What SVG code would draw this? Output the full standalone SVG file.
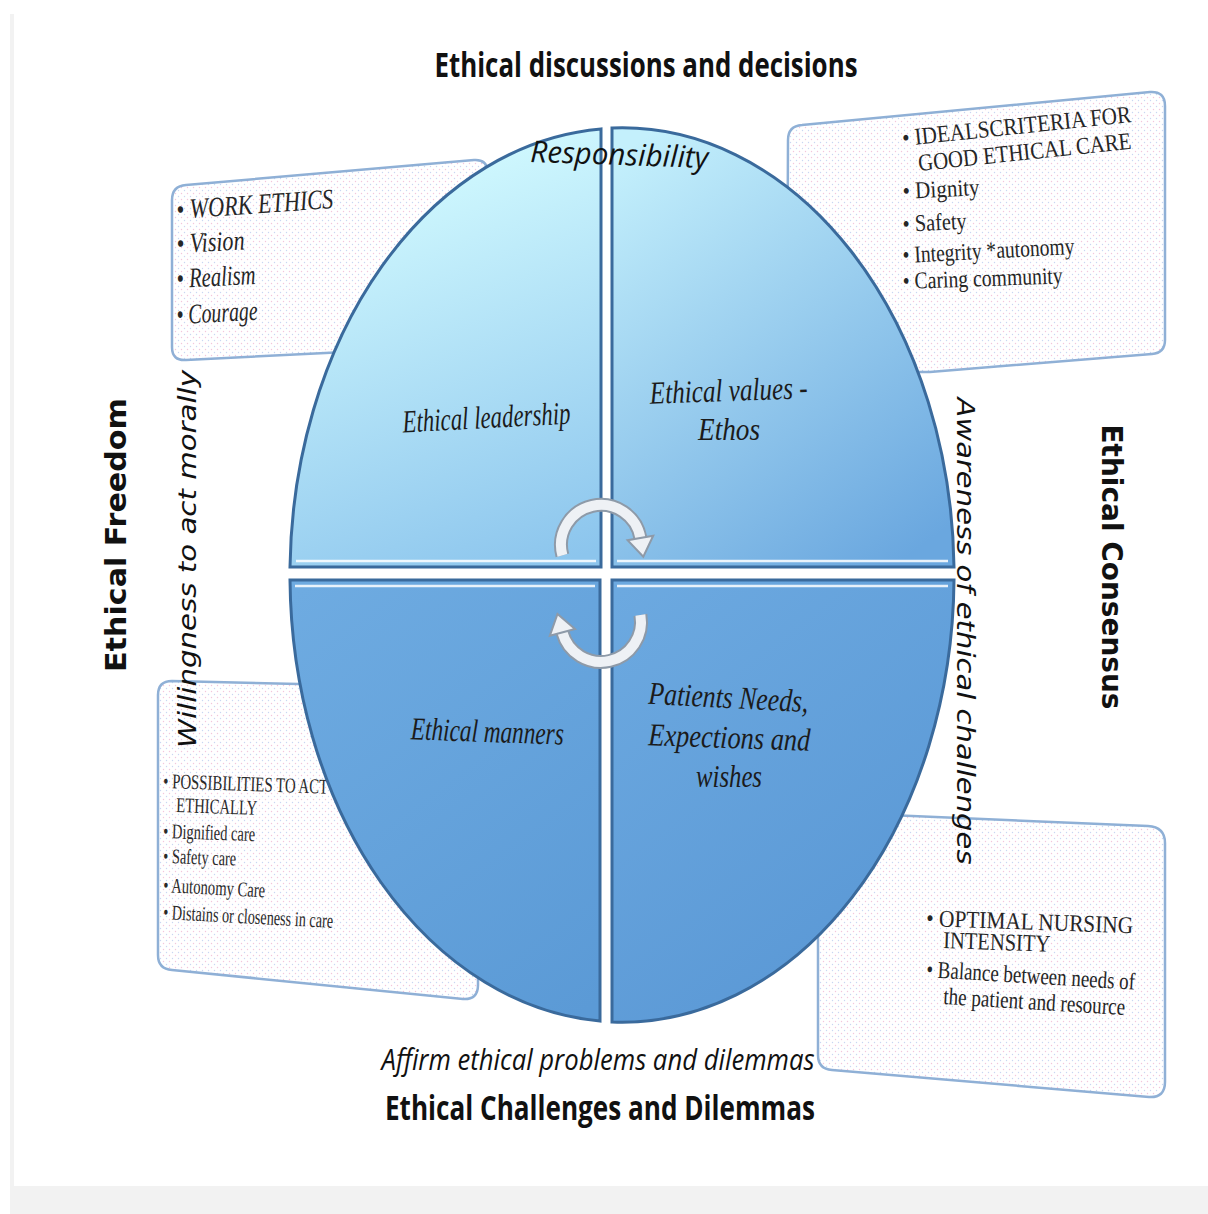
<svg xmlns="http://www.w3.org/2000/svg" width="1208" height="1214" viewBox="0 0 1208 1214">
<style>
.qs{font-family:"Liberation Serif",serif;font-style:italic;font-size:32px;fill:#1b1b1b;text-anchor:middle}
.bxi{font-family:"Liberation Serif",serif;font-style:italic;font-size:28px;fill:#262626}
.bx{font-family:"Liberation Serif",serif;font-size:24px;fill:#262626}
.bxs{font-family:"Liberation Serif",serif;font-size:21px;fill:#2a2a2a}
.ttl{font-family:"Open Sans","Liberation Sans",sans-serif;font-weight:700;font-size:34px;fill:#111;text-anchor:middle}
.itl{font-family:"Open Sans","Liberation Sans",sans-serif;font-style:italic;font-size:30px;fill:#111;text-anchor:middle}
.side{font-family:"DejaVu Sans",sans-serif;font-weight:700;font-size:28px;fill:#111;text-anchor:middle}
.obl{font-family:"DejaVu Sans",sans-serif;font-style:oblique;font-size:25px;fill:#111;text-anchor:middle}
.box{fill:url(#dots);stroke:#8fb0d6;stroke-width:2.5}
.quad{stroke:#3a6a9c;stroke-width:3}
.hl{stroke:#ffffff;stroke-width:2.5;stroke-opacity:0.85;fill:none}
.arcO{fill:none;stroke:#8e9aa8;stroke-width:14}
.arcI{fill:none;stroke:#eef1f5;stroke-width:10}
.head{fill:#eef1f5;stroke:#8e9aa8;stroke-width:2}
</style>
<defs>
<pattern id="dots" width="6" height="6" patternUnits="userSpaceOnUse">
<rect width="6" height="6" fill="#ffffff"/>
<circle cx="1.5" cy="1.5" r="0.7" fill="#f3c6dc"/>
<circle cx="4.5" cy="4.5" r="0.7" fill="#c9d6f2"/>
</pattern>
<linearGradient id="gTL" gradientUnits="userSpaceOnUse" x1="420" y1="150" x2="570" y2="560">
<stop offset="0" stop-color="#d3fbff"/><stop offset="1" stop-color="#8cc5ed"/>
</linearGradient>
<linearGradient id="gTR" gradientUnits="userSpaceOnUse" x1="640" y1="140" x2="930" y2="540">
<stop offset="0" stop-color="#c4f0fc"/><stop offset="1" stop-color="#6aa7df"/>
</linearGradient>
<linearGradient id="gBL" gradientUnits="userSpaceOnUse" x1="300" y1="590" x2="600" y2="1000">
<stop offset="0" stop-color="#6eabe1"/><stop offset="1" stop-color="#5b9ad6"/>
</linearGradient>
<linearGradient id="gBR" gradientUnits="userSpaceOnUse" x1="620" y1="590" x2="930" y2="1000">
<stop offset="0" stop-color="#6ca9e0"/><stop offset="1" stop-color="#5896d4"/>
</linearGradient>
</defs>
<rect width="1208" height="1214" fill="#ffffff"/>
<rect x="10" y="14" width="4" height="1172" fill="#f2f2f2"/>
<rect x="10" y="1186" width="1198" height="28" fill="#f2f2f2"/>

<g id="box-work-ethics">
<path class="box" d="M172,200 Q172,186 186,185 L474,160 Q487,159 488,172 L488,345 L186,360 Q172,361 172,347 Z"/>
<text class="bxi" x="177" y="219" textLength="157" lengthAdjust="spacingAndGlyphs" transform="rotate(-4 177 219)">• WORK ETHICS</text>
<text class="bxi" x="177" y="253" textLength="68" lengthAdjust="spacingAndGlyphs" transform="rotate(-3 177 253)">• Vision</text>
<text class="bxi" x="177" y="288" textLength="79" lengthAdjust="spacingAndGlyphs" transform="rotate(-3 177 288)">• Realism</text>
<text class="bxi" x="177" y="324" textLength="81" lengthAdjust="spacingAndGlyphs" transform="rotate(-3 177 324)">• Courage</text>
</g>

<g id="box-ideals">
<path class="box" d="M788,140 Q788,126 802,125 L1150,92 Q1165,91 1165,106 L1165,340 Q1165,353 1152,354 L930,372 L787,372 Z"/>
<text class="bx" x="903" y="146" textLength="230" lengthAdjust="spacingAndGlyphs" transform="rotate(-6 903 146)">• IDEALSCRITERIA FOR</text>
<text class="bx" x="919" y="171" textLength="214" lengthAdjust="spacingAndGlyphs" transform="rotate(-6 919 171)">GOOD ETHICAL CARE</text>
<text class="bx" x="903" y="199" textLength="77" lengthAdjust="spacingAndGlyphs" transform="rotate(-3 903 199)">• Dignity</text>
<text class="bx" x="903" y="232" textLength="64" lengthAdjust="spacingAndGlyphs" transform="rotate(-3 903 232)">• Safety</text>
<text class="bx" x="903" y="263" textLength="172" lengthAdjust="spacingAndGlyphs" transform="rotate(-3 903 263)">• Integrity *autonomy</text>
<text class="bx" x="903" y="289" textLength="160" lengthAdjust="spacingAndGlyphs" transform="rotate(-2 903 289)">• Caring community</text>
</g>

<g id="box-possibilities">
<path class="box" d="M158,695 Q158,681 172,681 L478,688 L478,985 Q478,1000 463,999 L172,970 Q158,969 158,955 Z"/>
<text class="bxs" x="163" y="788" textLength="165" lengthAdjust="spacingAndGlyphs" transform="rotate(2 163 788)">• POSSIBILITIES TO ACT</text>
<text class="bxs" x="176" y="812" textLength="81" lengthAdjust="spacingAndGlyphs" transform="rotate(2 176 812)">ETHICALLY</text>
<text class="bxs" x="163" y="838" textLength="92" lengthAdjust="spacingAndGlyphs" transform="rotate(2 163 838)">• Dignified care</text>
<text class="bxs" x="163" y="863" textLength="73" lengthAdjust="spacingAndGlyphs" transform="rotate(2 163 863)">• Safety care</text>
<text class="bxs" x="163" y="892" textLength="102" lengthAdjust="spacingAndGlyphs" transform="rotate(3 163 892)">• Autonomy Care</text>
<text class="bxs" x="163" y="919" textLength="170" lengthAdjust="spacingAndGlyphs" transform="rotate(3 163 919)">• Distains or closeness in care</text>
</g>

<g id="box-nursing">
<path class="box" d="M818,812 L1148,826 Q1165,827 1165,843 L1165,1082 Q1165,1098 1149,1097 L832,1070 Q818,1069 818,1055 Z"/>
<text class="bx" x="926" y="926" textLength="207" lengthAdjust="spacingAndGlyphs" transform="rotate(2 926 926)">• OPTIMAL NURSING</text>
<text class="bx" x="943" y="948" textLength="107" lengthAdjust="spacingAndGlyphs" transform="rotate(2 943 948)">INTENSITY</text>
<text class="bx" x="926" y="977" textLength="209" lengthAdjust="spacingAndGlyphs" transform="rotate(3.5 926 977)">• Balance between needs of</text>
<text class="bx" x="943" y="1004" textLength="182" lengthAdjust="spacingAndGlyphs" transform="rotate(3.5 943 1004)">the patient and resource</text>
</g>

<g id="quad-leadership">
<path class="quad" fill="url(#gTL)" d="M601,567 L290,567 A332 447 0 0 1 601,129 Z"/>
<path class="hl" d="M296,561 L596,561"/>
<text class="qs" x="487" y="428" textLength="168" lengthAdjust="spacingAndGlyphs" transform="rotate(-3 487 428)">Ethical leadership</text>
</g>
<g id="quad-values">
<path class="quad" fill="url(#gTR)" d="M612,567 L612,128 A332 447 0 0 1 954,567 Z"/>
<path class="hl" d="M617,561 L948,561"/>
<text class="qs" x="729" y="401" textLength="158" lengthAdjust="spacingAndGlyphs" transform="rotate(-2 729 401)">Ethical values -</text>
<text class="qs" x="729" y="440" textLength="62" lengthAdjust="spacingAndGlyphs">Ethos</text>
</g>
<g id="quad-manners">
<path class="quad" fill="url(#gBL)" d="M600,580 L600,1021 A332 447 0 0 1 290,580 Z"/>
<path class="hl" d="M295,586 L595,586"/>
<text class="qs" x="487" y="742" textLength="153" lengthAdjust="spacingAndGlyphs" transform="rotate(2 487 742)">Ethical manners</text>
</g>
<g id="quad-patients">
<path class="quad" fill="url(#gBR)" d="M612,580 L954,580 A332 447 0 0 1 612,1022 Z"/>
<path class="hl" d="M617,586 L948,586"/>
<text class="qs" x="728" y="708" textLength="160" lengthAdjust="spacingAndGlyphs" transform="rotate(3 728 708)">Patients Needs,</text>
<text class="qs" x="729" y="748" textLength="162" lengthAdjust="spacingAndGlyphs" transform="rotate(2 729 748)">Expections and</text>
<text class="qs" x="729" y="787" textLength="66" lengthAdjust="spacingAndGlyphs">wishes</text>
</g>

<g id="connectors">
<path class="arcO" d="M562.4,555.4 A40 40 0 1 1 640.4,538"/>
<path class="arcI" d="M562.4,555.4 A40 40 0 1 1 640.4,538"/>
<polygon class="head" points="653.2,535.8 627.6,540.2 643.3,556.7"/>
<path class="arcO" d="M640.4,615 A40 40 0 0 1 562.4,632.4"/>
<path class="arcI" d="M640.4,615 A40 40 0 0 1 562.4,632.4"/>
<polygon class="head" points="575,629 549.8,635.8 557.5,614"/>
</g>

<g id="labels">
<text class="ttl" x="646" y="77" textLength="423" lengthAdjust="spacingAndGlyphs">Ethical discussions and decisions</text>
<text class="itl" x="619" y="165" font-size="34" textLength="178" lengthAdjust="spacingAndGlyphs" transform="rotate(2 619 165)">Responsibility</text>
<text class="itl" x="598" y="1070" textLength="433" lengthAdjust="spacingAndGlyphs">Affirm ethical problems and dilemmas</text>
<text class="ttl" x="600" y="1120" textLength="430" lengthAdjust="spacingAndGlyphs">Ethical Challenges and Dilemmas</text>
<text class="side" x="0" y="0" textLength="274" lengthAdjust="spacingAndGlyphs" transform="translate(126 535) rotate(-90)">Ethical Freedom</text>
<text class="obl" x="0" y="0" textLength="378" lengthAdjust="spacingAndGlyphs" transform="translate(196 559) rotate(-90)">Willingness to act morally</text>
<text class="side" x="0" y="0" textLength="285" lengthAdjust="spacingAndGlyphs" transform="translate(1102 567) rotate(90)">Ethical Consensus</text>
<text class="obl" x="0" y="0" textLength="467" lengthAdjust="spacingAndGlyphs" transform="translate(957 631) rotate(90)">Awareness of ethical challenges</text>
</g>
</svg>
